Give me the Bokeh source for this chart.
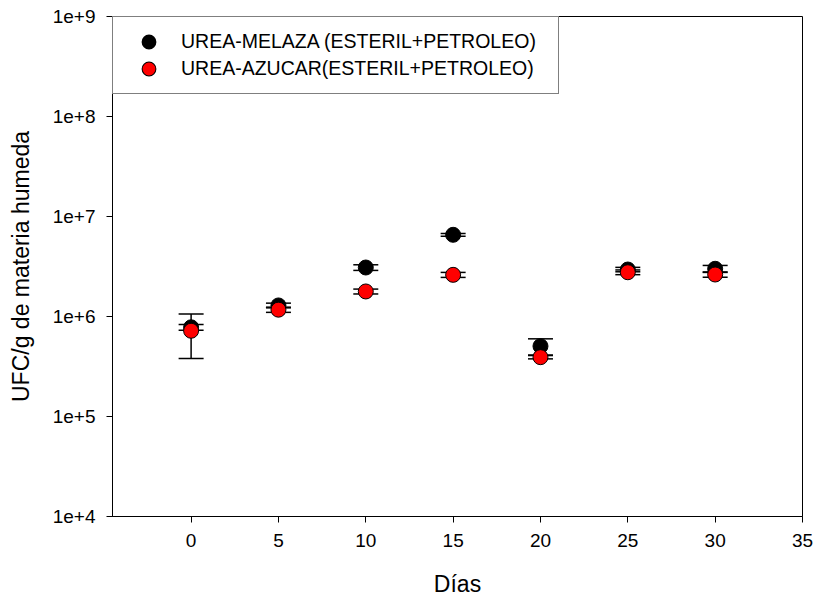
from bokeh.plotting import figure
from bokeh.models import (Range1d, FixedTicker, Whisker, TeeHead, ColumnDataSource,
                          Legend, LegendItem)
from bokeh.embed import file_html
from bokeh.resources import INLINE

# Days of sampling
dias = [0, 5, 10, 15, 20, 25, 30]

# UFC/g for each treatment and their error (same units)
melaza = [7.8e5, 1.29e6, 3.09e6, 6.56e6, 5.05e5, 2.95e6, 3.0e6]
melaza_err = [0.5e5, 0.07e6, 0.2e6, 0.2e6, 0.93e5, 0.15e6, 0.24e6]
azucar = [7.2e5, 1.17e6, 1.78e6, 2.61e6, 3.92e5, 2.77e6, 2.63e6]
azucar_err = [3.4e5, 0.07e6, 0.1e6, 0.15e6, 0.15e5, 0.15e6, 0.16e6]

series_names = ["UREA-MELAZA (ESTERIL+PETROLEO)", "UREA-AZUCAR(ESTERIL+PETROLEO)"]
series_colors = ["#000000", "#ff0000"]

x_ticks = [0, 5, 10, 15, 20, 25, 30, 35]
y_ticks = [1e4, 1e5, 1e6, 1e7, 1e8, 1e9]
y_tick_labels = ["1e+4", "1e+5", "1e+6", "1e+7", "1e+8", "1e+9"]

FONT = "Liberation Sans"

p = figure(width=817, height=599, y_axis_type="log",
           x_range=Range1d(-4.5, 35), y_range=Range1d(1e4, 1e9),
           output_backend="svg", toolbar_location=None,
           min_border_left=112, min_border_right=15,
           min_border_top=16, min_border_bottom=83)

p.xgrid.visible = False
p.ygrid.visible = False
p.outline_line_color = "black"
p.outline_line_width = 1
p.background_fill_color = "white"
p.border_fill_color = "white"

p.xaxis.ticker = FixedTicker(ticks=x_ticks)
p.yaxis.ticker = FixedTicker(ticks=y_ticks)
p.yaxis.major_label_overrides = {t: s for t, s in zip(y_ticks, y_tick_labels)}

for ax in (p.xaxis, p.yaxis):
    ax.axis_line_color = "black"
    ax.axis_line_width = 1
    ax.major_tick_line_color = "black"
    ax.major_tick_line_width = 1
    ax.major_tick_in = 0
    ax.major_tick_out = 6
    ax.minor_tick_line_color = None
    ax.major_label_text_font = FONT
    ax.major_label_text_font_size = "19px"
    ax.major_label_text_color = "black"
    ax.axis_label_text_font = FONT
    ax.axis_label_text_font_size = "23px"
    ax.axis_label_text_font_style = "normal"
    ax.axis_label_text_color = "black"

p.xaxis.major_label_standoff = 11
p.yaxis.major_label_standoff = 11
p.xaxis.axis_label = "Días"
p.yaxis.axis_label = "UFC/g de materia humeda"
p.xaxis.axis_label_standoff = 21
p.yaxis.axis_label_standoff = 16

# error bars and points, one series after the other
sources = []
for vals, errs, color in zip([melaza, azucar], [melaza_err, azucar_err], series_colors):
    src = ColumnDataSource(data=dict(
        x=dias, y=vals,
        lo=[v - e for v, e in zip(vals, errs)],
        hi=[v + e for v, e in zip(vals, errs)],
    ))
    w = Whisker(source=src, base="x", lower="lo", upper="hi", dimension="height",
                line_color="black", line_width=1.5,
                lower_head=TeeHead(size=25, line_color="black", line_width=1.5),
                upper_head=TeeHead(size=25, line_color="black", line_width=1.5))
    p.add_layout(w)
    p.scatter("x", "y", source=src, size=15, fill_color=color,
              line_color="black", line_width=1)
    sources.append(src)

# legend swatches: hidden renderers styled so the legend dots read at full size
key_black = p.scatter("x", "y", source=sources[0], fill_color="black",
                      line_color="black", line_width=4, visible=False)
key_ring = p.scatter("x", "y", source=sources[1], fill_color="black",
                     line_color="black", line_width=4, visible=False)
key_red = p.scatter("x", "y", source=sources[1], fill_color=series_colors[1],
                    line_color=series_colors[1], line_width=2, visible=False)

legend = Legend(
    items=[LegendItem(label=series_names[0], renderers=[key_black]),
           LegendItem(label=series_names[1], renderers=[key_ring, key_red])],
    location="top_left", margin=0, padding=11, spacing=0,
    glyph_height=27, glyph_width=49, label_height=27, label_standoff=8,
    label_width=366,
    border_line_color="black", border_line_width=1,
    background_fill_color="white", background_fill_alpha=1,
    label_text_font=FONT, label_text_font_size="19.5px", label_text_color="black",
)
p.add_layout(legend)

open("out.html", "w").write(file_html(p, INLINE))
